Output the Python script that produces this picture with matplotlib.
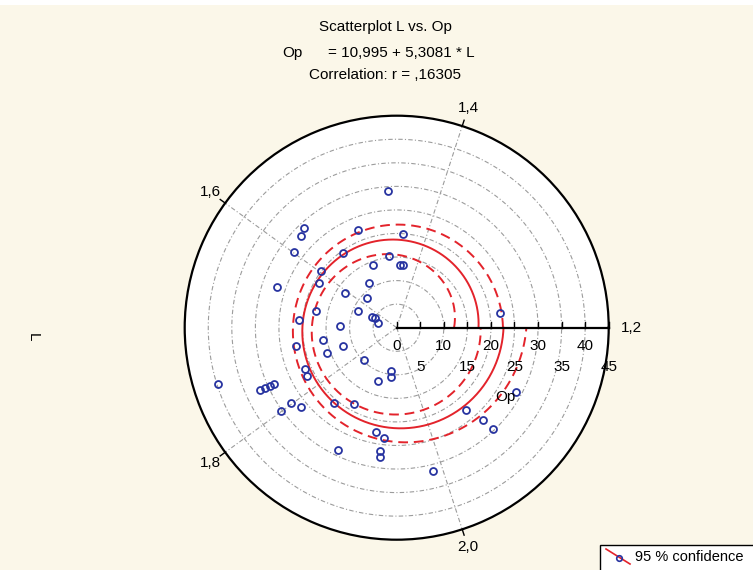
import numpy as np
import matplotlib
matplotlib.use("Agg")
import matplotlib.pyplot as plt
from matplotlib.patches import Rectangle
from matplotlib.lines import Line2D

plt.rcParams["font.family"] = ["Liberation Sans", "DejaVu Sans"]

# scatter data: L (angular axis), Op (radial axis)
L_vals = [1.460, 1.569, 1.578, 1.510, 1.439, 1.599, 1.550, 1.468, 1.508, 1.442,
          1.434, 1.597, 1.617, 1.648, 1.539, 1.606, 1.575, 1.667, 1.634, 1.636,
          1.635, 1.665, 1.687, 1.695, 1.222, 1.728, 1.726, 1.752, 1.756, 1.825,
          1.767, 1.778, 1.929, 1.932, 1.896, 1.749, 1.768, 1.769, 1.769, 1.769,
          1.798, 1.810, 1.799, 1.839, 1.869, 1.919, 1.931, 1.879, 1.929, 1.929,
          2.122, 2.062, 2.070, 2.071, 1.990]
Op_vals = [29.1, 28.8, 28.1, 22.3, 20.0, 27.0, 19.5, 15.4, 14.3, 13.3,
           13.3, 20.1, 18.9, 26.8, 11.2, 13.2, 9.0, 17.6, 9.0, 5.8,
           5.0, 4.1, 20.8, 12.1, 22.1, 21.8, 15.9, 12.0, 15.8, 9.8,
           21.3, 21.6, 9.3, 10.6, 11.9, 39.7, 31.8, 30.7, 29.7, 28.7,
           27.6, 26.3, 30.2, 20.8, 18.6, 22.5, 23.5, 28.7, 26.4, 27.6,
           28.8, 22.8, 26.8, 29.6, 31.4]

# regression from the title, and the 95% band shape (estimated)
intercept = 10.995
slope = 5.3081
band_center_L = 1.72
band_halfwidth = 2.0
band_spread = 0.217

L_ticks = [1.2, 1.4, 1.6, 1.8, 2.0]
L_tick_labels = ["1,2", "1,4", "1,6", "1,8", "2,0"]
r_ticks = [0, 5, 10, 15, 20, 25, 30, 35, 40, 45]

L0, L_turn = 1.2, 1.0  # one full turn = 1.0 of L


def ang(L):
    return (np.asarray(L) - L0) / L_turn * 2 * np.pi


BG = "#fbf7e9"
RED = "#e3232b"
BLUE = "#2733a0"
GRID = "#9c9c9c"
FS = 11
W, H = 753, 570

fig = plt.figure(figsize=(W / 100, H / 100), dpi=100)
fig.patch.set_facecolor(BG)
fig.patches.append(Rectangle((0, 1 - 5 / H), 1, 5 / H, transform=fig.transFigure,
                             facecolor="white", edgecolor="none", zorder=0))

cx, cy, R = 396.7, 327.7, 212
ax = fig.add_axes([(cx - R) / W, 1 - (cy + R) / H, 2 * R / W, 2 * R / H],
                  projection="polar")
ax.set_facecolor("white")
ax.set_theta_zero_location("E")
ax.set_ylim(0, 45)
ax.set_xticks([])
ax.set_yticks([])
ax.grid(False)
ax.spines["polar"].set_color("black")
ax.spines["polar"].set_linewidth(1.6)

gls = (0, (4, 2, 1, 2))
tt = np.linspace(0, 2 * np.pi, 400)
for r in r_ticks[1:-1]:
    ax.plot(tt, np.full_like(tt, r), color=GRID, lw=0.8, ls=gls, zorder=1)
for L in L_ticks[1:]:
    a = ang(L)
    ax.plot([a, a], [0, 45], color=GRID, lw=0.8, ls=gls, zorder=1)
    ax.plot([a, a], [45, 46.3], color="black", lw=1.0, clip_on=False)
    ax.text(a, 49.0, L_tick_labels[L_ticks.index(L)], ha="center", va="center",
            fontsize=FS, clip_on=False)
ax.text(0, 49.8, L_tick_labels[0], ha="center", va="center", fontsize=FS,
        clip_on=False)

# regression spiral + confidence band
L_line = np.linspace(L0, L0 + L_turn, 500)
fit = intercept + slope * L_line
hw = band_halfwidth * np.sqrt(1 + ((L_line - band_center_L) / band_spread) ** 2)
ax.plot(ang(L_line), fit, color=RED, lw=1.4, zorder=3)
ax.plot(ang(L_line), fit - hw, color=RED, lw=1.4, ls=(0, (5, 3)), zorder=3)
ax.plot(ang(L_line), fit + hw, color=RED, lw=1.4, ls=(0, (5, 3)), zorder=3)

ax.plot(ang(L_vals), Op_vals, "o", ms=5, mfc="none", mec=BLUE, mew=1.3,
        zorder=4)

# radial axis along theta = 0
ax.plot([0, 0], [0, 45], color="black", lw=1.6, zorder=5, clip_on=False)
for i, r in enumerate(r_ticks):
    h = 1.3
    ax.plot([0, np.arctan2(h, max(r, 1e-6))], [r, np.hypot(r, h)],
            color="black", lw=1.0, zorder=5, clip_on=False)
    ax.annotate(str(r), xy=(0, r), xytext=(0, -18 if i % 2 == 0 else -39),
                textcoords="offset pixels", ha="center", va="center",
                fontsize=FS, zorder=6)

fig.text(505 / W, 1 - 397 / H, "Op", ha="center", va="center", fontsize=FS)
fig.text(33 / W, 1 - 337 / H, "L", ha="center", va="center", fontsize=FS,
         rotation=270)

fig.text(385 / W, 1 - 27 / H, "Scatterplot L vs. Op", ha="center",
         va="center", fontsize=FS)
fig.text(282 / W, 1 - 53 / H, "Op", ha="left", va="center", fontsize=FS)
fig.text(328 / W, 1 - 53 / H, "= 10,995 + 5,3081 * L", ha="left",
         va="center", fontsize=FS)
fig.text(385 / W, 1 - 75 / H, "Correlation: r = ,16305", ha="center",
         va="center", fontsize=FS)

# legend box, running off the figure edge
fig.patches.append(Rectangle((600 / W, -0.05), 0.5, 0.05 + 1 - 545 / H,
                             transform=fig.transFigure, facecolor="white",
                             edgecolor="black", lw=1.0, zorder=5))
fig.lines.append(Line2D([606 / W, 630 / W], [1 - 549 / H, 1 - 564 / H],
                        transform=fig.transFigure, color=RED, lw=1.2, zorder=6))
fig.lines.append(Line2D([619 / W], [1 - 558 / H], transform=fig.transFigure,
                        marker="o", ms=4, mfc="none", mec=BLUE, mew=1.2,
                        zorder=7))
fig.text(635 / W, 1 - 557 / H, "95 % confidence", ha="left", va="center",
         fontsize=10.5, zorder=8)

fig.savefig("out.png", dpi=100, facecolor=BG)
